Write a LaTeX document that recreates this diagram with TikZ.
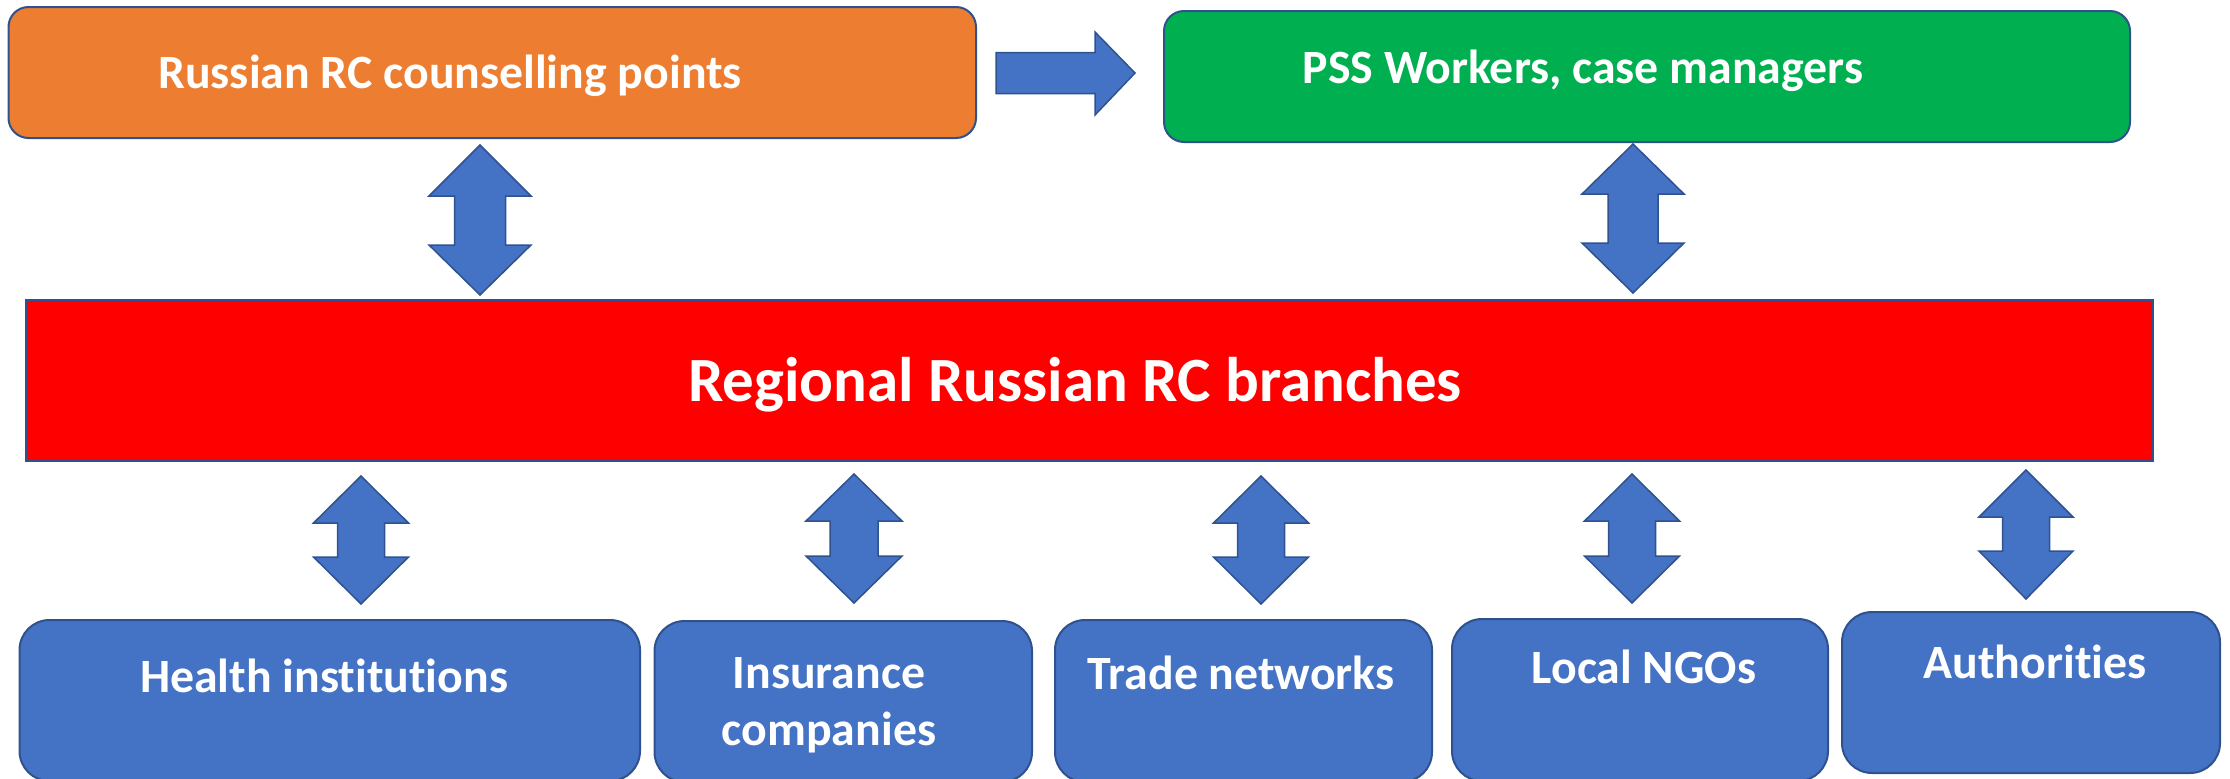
\documentclass[tikz,border=0pt]{standalone}
\usepackage{fontspec}
\setmainfont{Carlito}[RawFeature={-liga;-clig;-dlig}]
\definecolor{bfill}{HTML}{4472C4}
\definecolor{bline}{HTML}{2F528F}
\definecolor{ofill}{HTML}{ED7D31}
\definecolor{gfill}{HTML}{00B050}
\definecolor{rfill}{HTML}{FF0000}
\newcommand\vdarr[7]{%
  \draw[blockarrow] (#1,#2) -- ({#1+#4},#6) -- ({#1+#5},#6) -- ({#1+#5},#7) -- ({#1+#4},#7) -- (#1,#3)
    -- ({#1-#4},#7) -- ({#1-#5},#7) -- ({#1-#5},#6) -- ({#1-#4},#6) -- cycle;}
\begin{document}
\begin{tikzpicture}[x=1pt,y=-1pt,
  box/.style={draw=bline, line width=2pt, inner sep=0pt, outer sep=0pt},
  rbox/.style={box, rounded corners=20pt},
  bbox/.style={box, fill=bfill, rounded corners=30pt},
  blockarrow/.style={draw=bline, fill=bfill, line width=1.5pt, line join=miter},
  lbl/.style={text=white, font=\fontsize{47.8}{57}\selectfont\bfseries, anchor=base, inner sep=0pt, align=center},
  biglbl/.style={text=white, font=\fontsize{63}{72}\selectfont\bfseries, anchor=base, inner sep=0pt}]
\useasboundingbox (0,0) rectangle (2230,779);
% top boxes
\node[rbox, fill=ofill, minimum width=967.5pt, minimum height=131pt] (orange) at (492.25,72.5) {};
\node[rbox, fill=gfill, minimum width=966pt, minimum height=131pt] (green) at (1647,76.5) {};
\node[lbl] (orangetxt) at (450,88) {Russian RC counselling points};
\node[lbl] (greentxt) at (1583,83) {PSS Workers, case managers};
% red box
\node[box, fill=rfill, minimum width=2127.5pt, minimum height=161pt] (red) at (1089.25,380.5) {};
\node[biglbl] (redtxt) at (1075,401) {Regional Russian RC branches};
% bottom boxes
\node[bbox, minimum width=620.5pt, minimum height=161pt] (health) at (329.75,700.5) {};
\node[bbox, minimum width=377.5pt, minimum height=161pt] (insur) at (843.25,701.5) {};
\node[bbox, minimum width=377pt, minimum height=162pt] (trade) at (1243.5,701) {};
\node[bbox, minimum width=376pt, minimum height=162pt] (ngo) at (1640,700) {};
\node[bbox, minimum width=378pt, minimum height=161pt] (auth) at (2031,692.5) {};
\node[lbl] (healthtxt) at (324,692) {Health institutions};
\node[lbl] (insurtxt) at (829,745) {Insurance\\companies};
\node[lbl] (tradetxt) at (1241,689) {Trade networks};
\node[lbl] (ngotxt) at (1644,683) {Local NGOs};
\node[lbl] (authtxt) at (2035,678) {Authorities};
% right arrow between top boxes
\draw[blockarrow] (996,52.5) -- (1095,52.5) -- (1095,32) -- (1135,73) -- (1095,115) -- (1095,93.5) -- (996,93.5) -- cycle;
% vertical double arrows
\vdarr{480}{145}{295}{51}{25.5}{196}{245}
\vdarr{1633}{144}{293}{51}{25}{194}{243}
\vdarr{361}{476}{604}{47.5}{23.5}{523}{557}
\vdarr{854}{474}{603}{48}{24}{521}{556}
\vdarr{1261}{476}{604}{47.5}{23.5}{523}{557}
\vdarr{1632}{474}{603}{47.5}{23.5}{521}{556}
\vdarr{2026}{470}{599}{47}{23.5}{517}{551}
\end{tikzpicture}
\end{document}
